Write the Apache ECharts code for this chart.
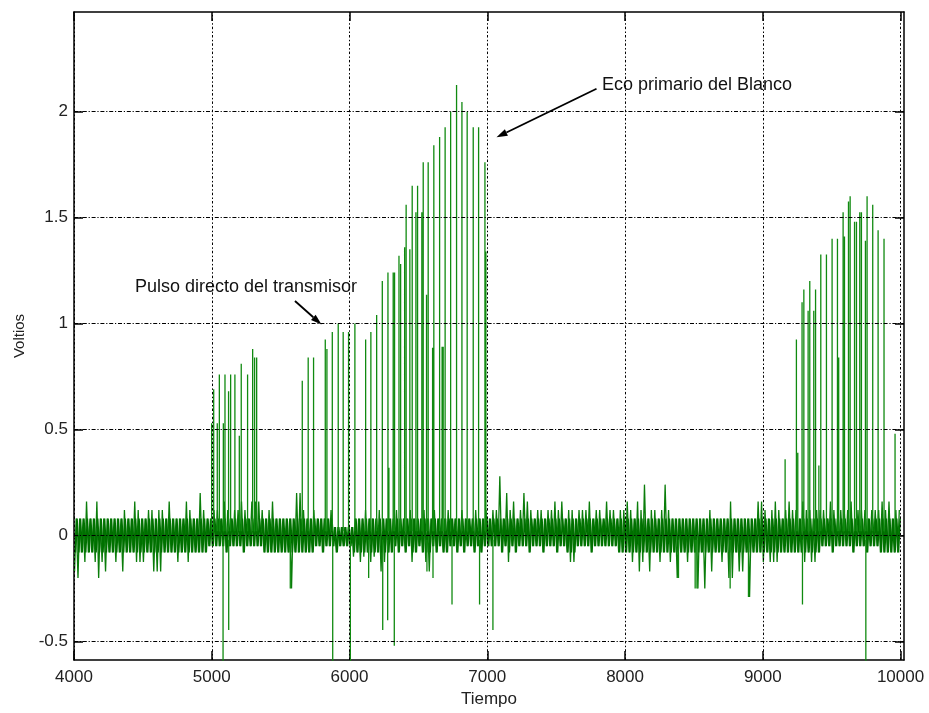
<!DOCTYPE html>
<html>
<head>
<meta charset="utf-8">
<title>Voltios vs Tiempo</title>
<script src="https://cdn.jsdelivr.net/npm/echarts@6/dist/echarts.min.js"></script>
<style>
  html, body { margin: 0; padding: 0; background: #fff; }
  #chart { width: 929px; height: 713px; }
</style>
</head>
<body>
<div id="chart"></div>
<script>
// Sampled receiver signal: noise envelope per 25-sample bin (high / low excursion)
const T0 = 4000;
const BIN = 25;
const noiseHi = [
  .08,.08,.08,.16,.08,.08,.16,.08,.08,.08,.08,.08,.08,.08,.12,.08,.08,.16,.12,.08,
  .08,.12,.12,.08,.12,.12,.08,.16,.08,.08,.08,.08,.16,.12,.08,.08,.2,.12,.08,.08,
  .12,.12,.08,.16,.12,.08,.12,.12,.16,.12,.08,.16,.16,.16,.12,.08,.12,.16,.08,.08,
  .08,.08,.08,.08,.2,.2,.12,.08,.08,.12,.08,.08,.08,.08,.12,.04,.04,.04,.04,.04,
  .04,.08,.08,.08,.12,.08,.08,.08,.12,.08,.08,.08,.08,.12,.08,.08,.08,.12,.08,.08,
  .08,.12,.08,.08,.12,.08,.08,.08,.12,.08,.08,.08,.12,.08,.08,.08,.12,.08,.08,.12,
  .08,.12,.12,.28,.08,.2,.12,.16,.08,.12,.2,.16,.12,.08,.12,.12,.08,.12,.12,.16,
  .12,.16,.08,.12,.12,.08,.12,.12,.12,.16,.08,.12,.12,.08,.16,.12,.12,.08,.12,.12,
  .16,.12,.08,.16,.12,.24,.08,.12,.12,.08,.12,.24,.12,.08,.08,.08,.08,.08,.08,.08,
  .08,.08,.08,.08,.12,.08,.08,.08,.08,.08,.16,.08,.08,.08,.08,.08,.08,.08,.16,.16,
  .12,.08,.12,.16,.12,.08,.12,.16,.12,.12,.08,.16,.12,.12,.08,.12,.12,.12,.08,.16,
  .12,.08,.12,.12,.12,.16,.08,.12,.12,.12,.08,.12,.12,.12,.16,.12,.16,.08,.12,.12
];
const noiseLo = [
  -.17,-.2,-.08,-.125,-.08,-.08,-.125,-.2,-.125,-.17,-.08,-.08,-.125,-.08,-.17,-.08,-.08,-.08,-.125,-.125,
  -.125,-.08,-.08,-.17,-.17,-.17,-.08,-.08,-.08,-.08,-.125,-.08,-.08,-.125,-.08,-.08,-.08,-.08,-.08,-.05,
  -.05,-.05,-.05,-.05,-.08,-.05,-.05,-.05,-.05,-.08,-.05,-.05,-.05,-.05,-.05,-.08,-.08,-.08,-.08,-.08,
  -.08,-.08,-.08,-.25,-.08,-.08,-.08,-.08,-.08,-.08,-.05,-.05,-.08,-.05,-.05,-.05,-.08,-.05,-.05,-.05,
  -.05,-.1,-.08,-.125,-.1,-.08,-.125,-.1,-.08,-.17,-.125,-.08,-.08,-.05,-.08,-.05,-.08,-.05,-.125,-.08,
  -.05,-.08,-.125,-.17,-.05,-.08,-.05,-.08,-.08,-.05,-.05,-.08,-.05,-.08,-.05,-.05,-.08,-.05,-.08,-.05,
  -.05,-.05,-.05,-.05,-.08,-.05,-.125,-.05,-.08,-.05,-.05,-.05,-.08,-.05,-.05,-.05,-.08,-.05,-.05,-.05,
  -.08,-.05,-.05,-.08,-.125,-.125,-.05,-.05,-.05,-.05,-.08,-.05,-.05,-.05,-.05,-.05,-.05,-.05,-.08,-.08,
  -.08,-.08,-.125,-.08,-.17,-.125,-.08,-.17,-.08,-.08,-.125,-.08,-.08,-.125,-.08,-.2,-.08,-.08,-.125,-.08,
  -.08,-.25,-.08,-.25,-.08,-.17,-.08,-.08,-.125,-.08,-.2,-.2,-.08,-.17,-.17,-.08,-.29,-.08,-.08,-.08,
  -.125,-.08,-.125,-.125,-.125,-.08,-.08,-.08,-.08,-.08,-.08,-.08,-.125,-.08,-.125,-.125,-.08,-.05,-.05,-.05,
  -.08,-.05,-.05,-.05,-.05,-.05,-.08,-.05,-.05,-.05,-.08,-.05,-.05,-.05,-.08,-.08,-.08,-.08,-.08,-.08
];
// Steady core of the noise floor (volts)
const coreTop = 0.08;
const coreBottom = -0.08;

// Positive pulses (sample time, volts)
const pulseTimes = [
  4999,5014,5040,5055,5084,5096,5122,5137,5168,5200,5214,5260,5297,5311,5326,
  5657,5700,5739,5824,5836,5875,5918,5954,5993,6039,6117,6155,6197,6238,6279,
  6286,6317,6327,6359,6371,6400,6411,6438,6455,6482,6494,6525,6535,6559,6571,
  6603,6612,6654,6672,6680,6694,6734,6777,6816,6854,6898,6937,6983,6990,
  9162,9244,9254,9285,9298,9329,9341,9370,9383,9407,9421,9462,9503,9542,9551,
  9583,9593,9622,9634,9666,9680,9704,9716,9745,9757,9798,9837,9880,9960
];
const pulseVolts = [
  0.53,0.69,0.53,0.76,0.53,0.76,0.68,0.76,0.76,0.47,0.81,0.76,0.88,0.84,0.84,
  0.73,0.84,0.84,0.925,0.88,0.96,1.0,0.96,0.96,1.0,0.925,0.96,1.04,1.2,1.24,
  0.32,1.24,1.24,1.32,1.28,1.36,1.56,1.35,1.65,1.525,1.65,1.525,1.76,1.135,1.76,
  0.885,1.84,1.88,0.89,0.89,1.925,2.0,2.125,2.045,2.0,1.925,1.925,1.76,1.34,
  0.36,0.925,0.39,1.1,1.16,1.06,1.2,1.06,1.16,0.33,1.325,1.325,1.4,1.4,0.84,
  1.525,1.41,1.575,1.6,1.48,1.48,1.525,1.525,1.39,1.6,1.56,1.44,1.4,0.48
];

// Negative dips (sample time, volts)
const dipTimes = [5079,5120,5567,5875,6003,6136,6238,6274,6322,6559,6603,6741,6941,7038,
  8385,8506,8519,8760,8893,9285,9745];
const dipVolts = [-0.6,-0.445,-0.25,-0.6,-0.6,-0.2,-0.445,-0.4,-0.52,-0.17,-0.2,-0.325,-0.325,-0.445,
  -0.2,-0.25,-0.25,-0.25,-0.29,-0.325,-0.6];

// Axis ticks
const xTicks = [4000,5000,6000,7000,8000,9000,10000];
const yTicks = [-0.5,0,0.5,1,1.5,2];
const yTickLabels = ['-0.5','0','0.5','1','1.5','2'];

const X_MIN = 4000, X_MAX = 10025;
const Y_MIN = -0.587, Y_MAX = 2.469;

// Noise floor: zig-zag through each bin's low / high excursion
const noiseTrace = [];
// Core pass: same bins, held inside the steady band, offset to fill between strokes
const coreTrace = [];
for (let i = 0; i < noiseHi.length; i++) {
  const x0 = T0 + i * BIN;
  noiseTrace.push([x0 + 4, noiseLo[i]], [x0 + 16, noiseHi[i]]);
  coreTrace.push([x0 + 10, Math.max(noiseLo[i], coreBottom)], [x0 + 22, Math.min(noiseHi[i], coreTop)]);
}

// Pulses and dips: one vertical stroke each, separated by gaps
const spikeTrace = [];
pulseTimes.forEach((t, k) => spikeTrace.push([t, 0.02], [t, pulseVolts[k]], [t, '-']));
dipTimes.forEach((t, k) => spikeTrace.push([t + 3, -0.02], [t + 3, dipVolts[k]], [t + 3, '-']));

const FONT = '"Liberation Sans", Arial, Helvetica, sans-serif';
const gridLineV = { color: '#000', width: 1, type: [2.5, 2, 1.5, 2.3] };
const gridLineH = { color: '#000', width: 1, type: [4, 1.8, 1.2, 1.8] };

const chart = echarts.init(document.getElementById('chart'), null, { renderer: 'canvas' });

const axisLineStyle = { show: true, onZero: false, lineStyle: { color: '#000', width: 1.5 } };
const tickStyle = list => ({ show: true, inside: true, length: 9, customValues: list, lineStyle: { color: '#000', width: 1.5 } });
const traceSeries = (name, data, z, color, width) => ({
  name, type: 'line', xAxisIndex: 0, yAxisIndex: 0, z,
  data, showSymbol: false, symbol: 'none', clip: true, connectNulls: false,
  lineStyle: { color, width },
  emphasis: { disabled: true }
});

chart.setOption({
  animation: false,
  backgroundColor: '#fff',
  grid: { left: 74, right: 25, top: 12, bottom: 49, containLabel: false },
  xAxis: [
    {
      type: 'value', min: X_MIN, max: X_MAX, position: 'bottom',
      name: 'Tiempo', nameLocation: 'middle', nameGap: 31,
      nameTextStyle: { fontFamily: FONT, fontSize: 17, color: '#222' },
      axisLine: axisLineStyle,
      axisTick: tickStyle(xTicks),
      axisLabel: {
        show: true, customValues: xTicks, margin: 9, fontFamily: FONT, fontSize: 17, color: '#222',
        formatter: v => String(Math.round(v))
      },
      splitLine: { show: false }
    },
    {
      type: 'value', min: X_MIN, max: X_MAX, position: 'top',
      axisLine: axisLineStyle,
      axisTick: tickStyle(xTicks),
      axisLabel: { show: false },
      splitLine: { show: false }
    }
  ],
  yAxis: [
    {
      type: 'value', min: Y_MIN, max: Y_MAX, position: 'left',
      name: 'Voltios', nameLocation: 'middle', nameGap: 47, nameRotate: 90,
      nameTextStyle: { fontFamily: FONT, fontSize: 15, color: '#222' },
      axisLine: axisLineStyle,
      axisTick: tickStyle(yTicks),
      axisLabel: {
        show: true, customValues: yTicks, margin: 6, fontFamily: FONT, fontSize: 17, color: '#222',
        formatter: v => {
          const k = yTicks.findIndex(t => Math.abs(t - v) < 1e-6);
          return k >= 0 ? yTickLabels[k] : '';
        }
      },
      splitLine: { show: false }
    },
    {
      type: 'value', min: Y_MIN, max: Y_MAX, position: 'right',
      axisLine: axisLineStyle,
      axisTick: tickStyle(yTicks),
      axisLabel: { show: false },
      splitLine: { show: false }
    }
  ],
  series: [
    {
      // dotted grid drawn behind the trace
      type: 'line', xAxisIndex: 0, yAxisIndex: 0, data: [], z: 1, silent: true,
      markLine: {
        silent: true, symbol: ['none', 'none'], animation: false,
        label: { show: false },
        data: [
          ...xTicks.map(v => ({ xAxis: v, lineStyle: gridLineV })),
          ...yTicks.map(v => ({ yAxis: v, lineStyle: gridLineH }))
        ]
      }
    },
    traceSeries('ruido', noiseTrace, 3, '#0a7d0a', 1.3),
    traceSeries('ruido base', coreTrace, 3, '#007000', 1.6),
    traceSeries('pulsos', spikeTrace, 4, '#108a10', 1.3)
  ]
});

// Annotations, anchored in data coordinates
const notes = [
  { text: 'Pulso directo del transmisor', at: [4443, 1.1715], tail: [5604, 1.106], tip: [5797, 0.995] },
  { text: 'Eco primario del Blanco', at: [7832, 2.1228], tail: [7793, 2.107], tip: [7067, 1.878] }
];

const toPx = p => chart.convertToPixel({ xAxisIndex: 0, yAxisIndex: 0 }, p);
const graphics = [];
notes.forEach(n => {
  const a = toPx(n.at), t0 = toPx(n.tail), t1 = toPx(n.tip);
  graphics.push({
    type: 'text', x: a[0], y: a[1], z: 10,
    style: { text: n.text, fontFamily: FONT, fontSize: 18, fill: '#111', textVerticalAlign: 'middle', textAlign: 'left' }
  });
  const dx = t1[0] - t0[0], dy = t1[1] - t0[1];
  const len = Math.hypot(dx, dy), ux = dx / len, uy = dy / len;
  const L = 11, W = 7;
  const bx = t1[0] - ux * L, by = t1[1] - uy * L;
  graphics.push({
    type: 'line', z: 10,
    shape: { x1: t0[0], y1: t0[1], x2: bx, y2: by },
    style: { stroke: '#000', lineWidth: 1.8 }
  });
  graphics.push({
    type: 'polygon', z: 10,
    shape: { points: [[t1[0], t1[1]], [bx - uy * W / 2, by + ux * W / 2], [bx + uy * W / 2, by - ux * W / 2]] },
    style: { fill: '#000' }
  });
});
chart.setOption({ graphic: graphics });
</script>
</body>
</html>
